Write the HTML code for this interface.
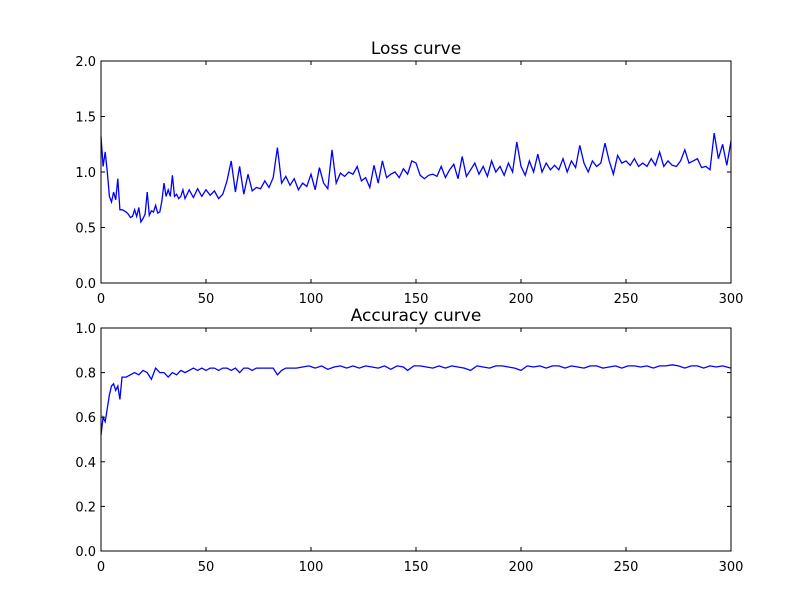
<!DOCTYPE html>
<html><head><meta charset="utf-8"><style>
body{margin:0;background:#fff}
svg{display:block}
text{font-family:"DejaVu Sans","Liberation Sans",sans-serif;fill:#000}
</style></head><body>
<svg id="fig" width="812" height="612" viewBox="0 0 812 612" xmlns="http://www.w3.org/2000/svg">
<rect width="812" height="612" fill="#fff"/>
</svg>
<script>
const lossEpochs=[0,1,2,3,4,5,6,7,8,9,10,11,12,13,14,15,16,17,18,19,20,21,22,23,24,25,26,27,28,29,30,31,32,33,34,35,36,37,38,39,40,42,44,46,48,50,52,54,56,58,60,62,64,66,68,70,72,74,76,78,80,82,84,86,88,90,92,94,96,98,100,102,104,106,108,110,112,114,116,118,120,122,124,126,128,130,132,134,136,138,140,142,144,146,148,150,152,154,156,158,160,162,164,166,168,170,172,174,176,178,180,182,184,186,188,190,192,194,196,198,200,202,204,206,208,210,212,214,216,218,220,222,224,226,228,230,232,234,236,238,240,242,244,246,248,250,252,254,256,258,260,262,264,266,268,270,272,274,276,278,280,282,284,286,288,290,292,294,296,298,300];
const lossValues=[1.32,1.05,1.18,1.0,0.78,0.73,0.82,0.75,0.94,0.66,0.66,0.65,0.64,0.62,0.59,0.6,0.66,0.6,0.68,0.55,0.58,0.62,0.82,0.61,0.65,0.64,0.7,0.63,0.64,0.74,0.9,0.78,0.84,0.78,0.97,0.78,0.8,0.76,0.78,0.84,0.76,0.84,0.77,0.85,0.78,0.84,0.79,0.83,0.76,0.8,0.92,1.1,0.82,1.05,0.8,0.98,0.83,0.86,0.85,0.92,0.86,0.95,1.22,0.9,0.96,0.88,0.94,0.84,0.9,0.87,0.98,0.84,1.04,0.9,0.85,1.2,0.9,0.99,0.96,1.0,0.98,1.05,0.92,0.95,0.86,1.06,0.9,1.1,0.95,0.98,1.0,0.95,1.03,0.98,1.1,1.08,0.97,0.94,0.97,0.98,0.96,1.05,0.95,1.02,1.07,0.94,1.14,0.96,1.02,1.08,0.98,1.05,0.96,1.1,1.0,1.05,0.97,1.08,1.0,1.27,1.05,0.97,1.1,1.0,1.16,1.0,1.08,1.02,1.06,1.02,1.12,1.0,1.1,1.04,1.24,1.08,1.0,1.1,1.05,1.08,1.26,1.1,0.98,1.15,1.08,1.1,1.06,1.12,1.05,1.08,1.05,1.12,1.06,1.18,1.05,1.1,1.06,1.05,1.1,1.2,1.08,1.1,1.12,1.04,1.05,1.02,1.35,1.12,1.25,1.06,1.28];
const accEpochs=[0,1,2,3,4,5,6,7,8,9,10,12,14,16,18,20,22,24,26,28,30,32,34,36,38,40,42,44,46,48,50,52,54,56,58,60,62,64,66,68,70,72,74,76,78,80,82,84,86,88,90,93,96,99,102,105,108,111,114,117,120,123,126,129,132,135,138,141,144,146,149,152,155,158,161,164,167,170,173,176,179,182,185,188,191,194,197,200,203,206,209,212,215,218,221,224,227,230,233,236,239,242,245,248,251,254,257,260,263,266,269,272,275,278,281,284,287,290,293,296,300];
const accValues=[0.52,0.6,0.58,0.64,0.7,0.74,0.75,0.72,0.74,0.68,0.78,0.78,0.79,0.8,0.79,0.81,0.8,0.77,0.82,0.8,0.8,0.78,0.8,0.79,0.81,0.8,0.81,0.82,0.81,0.82,0.81,0.82,0.82,0.81,0.82,0.82,0.81,0.82,0.8,0.82,0.82,0.81,0.82,0.82,0.82,0.82,0.82,0.79,0.81,0.82,0.82,0.82,0.825,0.83,0.82,0.83,0.815,0.825,0.83,0.82,0.83,0.82,0.83,0.825,0.82,0.83,0.815,0.83,0.825,0.81,0.83,0.83,0.825,0.82,0.83,0.82,0.83,0.825,0.82,0.81,0.83,0.825,0.82,0.83,0.83,0.825,0.82,0.81,0.83,0.825,0.83,0.82,0.83,0.83,0.82,0.83,0.825,0.82,0.83,0.83,0.82,0.825,0.83,0.82,0.83,0.83,0.825,0.83,0.82,0.83,0.83,0.835,0.83,0.82,0.83,0.83,0.82,0.83,0.825,0.83,0.82];
const xTicks=[0,50,100,150,200,250,300];
const lossTicks=[0.0,0.5,1.0,1.5,2.0];
const accTicks=[0.0,0.2,0.4,0.6,0.8,1.0];
const NS="http://www.w3.org/2000/svg";
const svg=document.getElementById('fig');
function mk(tag,attrs,parent){const e=document.createElementNS(NS,tag);for(const k in attrs)e.setAttribute(k,attrs[k]);(parent||svg).appendChild(e);return e;}
function panel(name,box,ymax,yTicks,yDec,title,xs,ys){
  const g=mk('g',{});
  
  
  const X=v=>box.l+(v-0)/(300-0)*(box.r-box.l);
  const Y=v=>box.b-v/ymax*(box.b-box.t);
  let d='';
  for(let i=0;i<xs.length;i++)d+=(i?'L':'M')+X(xs[i]).toFixed(1)+','+Y(ys[i]).toFixed(1);
  const line=mk('path',{d:d,fill:'none',stroke:'#0000ff','stroke-width':1.3},g);
  
  
  const frame=mk('rect',{x:box.l,y:box.t,width:box.r-box.l,height:box.b-box.t,fill:'none',stroke:'#000','stroke-width':1},g);
  
  
  xTicks.forEach(t=>{
    const x=X(t);
    mk('line',{x1:x,x2:x,y1:box.b,y2:box.b-4,stroke:'#000'},g);
    mk('line',{x1:x,x2:x,y1:box.t,y2:box.t+4,stroke:'#000'},g);
    const tx=mk('text',{x:x,y:box.b+20,'text-anchor':'middle','font-size':13},g);
    tx.textContent=t;
    
    
  });
  yTicks.forEach(t=>{
    const y=Y(t);
    mk('line',{x1:box.l,x2:box.l+4,y1:y,y2:y,stroke:'#000'},g);
    mk('line',{x1:box.r,x2:box.r-4,y1:y,y2:y,stroke:'#000'},g);
    const ty=mk('text',{x:box.l-5,y:y+5,'text-anchor':'end','font-size':13},g);
    ty.textContent=t.toFixed(yDec);
    
    
  });
  const tt=mk('text',{x:(box.l+box.r)/2,y:box.t-7,'text-anchor':'middle','font-size':17},g);
  tt.textContent=title;
  
  
}
panel('loss',{l:101,r:731,t:61,b:283},2.0,lossTicks,1,'Loss curve',lossEpochs,lossValues);
panel('accuracy',{l:101,r:731,t:328,b:551},1.0,accTicks,1,'Accuracy curve',accEpochs,accValues);
</script>
</body></html>
